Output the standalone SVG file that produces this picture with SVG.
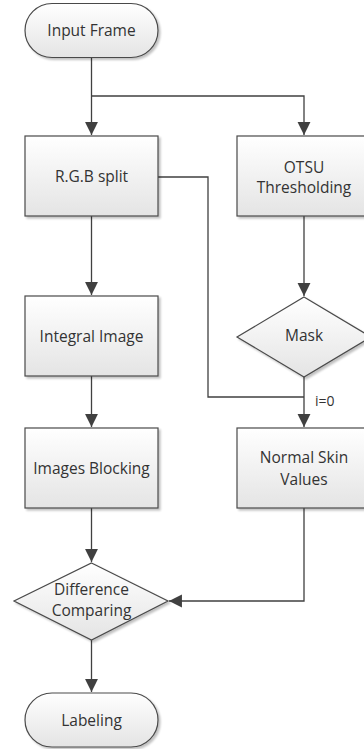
<svg xmlns="http://www.w3.org/2000/svg" width="364" height="749" viewBox="0 0 364 749">
<defs>
<linearGradient id="g" x1="0" y1="0" x2="0" y2="1">
<stop offset="0" stop-color="#ffffff"/>
<stop offset="1" stop-color="#e4e4e4"/>
</linearGradient>
<marker id="arr" markerWidth="14" markerHeight="14" refX="12" refY="6" orient="auto" markerUnits="userSpaceOnUse" viewBox="0 0 13 12">
<path d="M0,0 L12,6 L0,12 Z" fill="#404040"/>
</marker>
<filter id="sh" x="-10%" y="-10%" width="130%" height="130%">
<feGaussianBlur in="SourceAlpha" stdDeviation="1"/>
<feOffset dx="1.5" dy="1.5" result="b"/>
<feComponentTransfer><feFuncA type="linear" slope="0.25"/></feComponentTransfer>
<feMerge><feMergeNode/><feMergeNode in="SourceGraphic"/></feMerge>
</filter>
</defs>
<style>
.n{fill:url(#g);stroke:#4a4a4a;stroke-width:1.2;filter:url(#sh)}
.t{font-family:"Open Sans","Liberation Sans",sans-serif;font-size:15.5px;fill:#333;text-anchor:middle}
.c{fill:none;stroke:#404040;stroke-width:1.3}
</style>
<rect width="364" height="749" fill="#ffffff"/>
<g id="connectors">
<path class="c" d="M91.5,58 V96 V135" marker-end="url(#arr)"/>
<path class="c" d="M91.5,96 H304 V135" marker-end="url(#arr)"/>
<path class="c" d="M91.5,216 V295" marker-end="url(#arr)"/>
<path class="c" d="M304,216 V296" marker-end="url(#arr)"/>
<path class="c" d="M91.5,376 V427" marker-end="url(#arr)"/>
<path class="c" d="M158,177 H208 V397 H304"/>
<path class="c" d="M304,377 V427" marker-end="url(#arr)"/>
<path class="c" d="M91.5,508 V562" marker-end="url(#arr)"/>
<path class="c" d="M304,508 V601 H169" marker-end="url(#arr)"/>
<path class="c" d="M91.5,640 V692" marker-end="url(#arr)"/>
<text x="315" y="406" font-family="Open Sans, Liberation Sans, sans-serif" font-size="14" fill="#333">i=0</text>
</g>
<g id="input-frame">
<rect class="n" x="25" y="3.5" width="133" height="54" rx="27" ry="27"/>
<text class="t" x="91.5" y="36">Input Frame</text>
</g>
<g id="rgb-split">
<rect class="n" x="25" y="136" width="133" height="80"/>
<text class="t" x="91.5" y="182">R.G.B split</text>
</g>
<g id="otsu">
<rect class="n" x="237" y="136" width="134" height="80"/>
<text class="t" x="304" y="173">OTSU</text>
<text class="t" x="304" y="193">Thresholding</text>
</g>
<g id="integral-image">
<rect class="n" x="25" y="296" width="133" height="80"/>
<text class="t" x="91.5" y="342">Integral Image</text>
</g>
<g id="mask">
<polygon class="n" points="304,297 371,337 304,377 237,337"/>
<text class="t" x="304" y="341">Mask</text>
</g>
<g id="images-blocking">
<rect class="n" x="25" y="428" width="133" height="80"/>
<text class="t" x="91.5" y="474">Images Blocking</text>
</g>
<g id="normal-skin">
<rect class="n" x="237" y="428" width="134" height="80"/>
<text class="t" x="304" y="463">Normal Skin</text>
<text class="t" x="304" y="485">Values</text>
</g>
<g id="difference">
<polygon class="n" points="91.5,563 168,601 91.5,640 14,601"/>
<text class="t" x="91.5" y="595">Difference</text>
<text class="t" x="91.5" y="616">Comparing</text>
</g>
<g id="labeling">
<rect class="n" x="25" y="693" width="133" height="54" rx="27" ry="27"/>
<text class="t" x="91.5" y="726">Labeling</text>
</g>
</svg>
